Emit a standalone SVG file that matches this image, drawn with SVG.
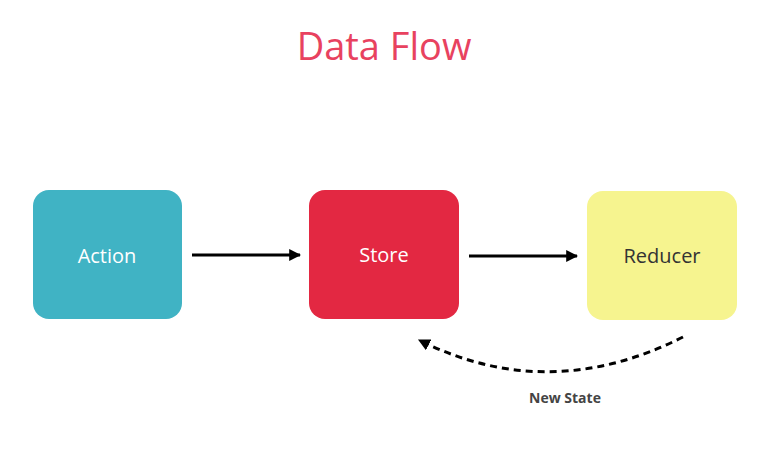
<svg xmlns="http://www.w3.org/2000/svg" width="777" height="468" viewBox="0 0 777 468">
  <style>
    .title { font-family: "Open Sans", "Liberation Sans", sans-serif; font-size: 38px; fill: #e8425f; }
    .label { font-family: "Open Sans", "Liberation Sans", sans-serif; font-size: 20px; text-anchor: middle; }
    .edge { stroke: #000; stroke-width: 3; fill: none; }
    .note { font-family: "Open Sans", "Liberation Sans", sans-serif; font-size: 14px; font-weight: bold; fill: #444; text-anchor: middle; }
  </style>
  <defs>
    <marker id="arrow" viewBox="0 0 10 10" refX="9" refY="5" markerWidth="4" markerHeight="4" orient="auto" markerUnits="strokeWidth">
      <path d="M0,0 L10,5 L0,10 z" fill="#000"/>
    </marker>
  </defs>
  <rect width="777" height="468" fill="#fff"/>
  <text class="title" x="384" y="60" text-anchor="middle">Data Flow</text>

  <g id="action">
    <rect x="33" y="190" width="149" height="129" rx="16" fill="#40b3c4"/>
    <text class="label" x="107" y="263" fill="#fff">Action</text>
  </g>
  <g id="store">
    <rect x="309" y="190" width="150" height="129" rx="16" fill="#e32842"/>
    <text class="label" x="384" y="262" fill="#fff">Store</text>
  </g>
  <g id="reducer">
    <rect x="587" y="191" width="150" height="129" rx="16" fill="#f6f48f"/>
    <text class="label" x="662" y="263" fill="#333">Reducer</text>
  </g>

  <g id="connectors">
    <line class="edge" x1="192" y1="255" x2="300" y2="255" marker-end="url(#arrow)"/>
    <line class="edge" x1="469" y1="256" x2="577" y2="256" marker-end="url(#arrow)"/>
    <path class="edge" d="M683,337 Q548,405 419,340" stroke-dasharray="7,5" marker-end="url(#arrow)"/>
    <text class="note" x="565" y="403">New State</text>
  </g>
</svg>
